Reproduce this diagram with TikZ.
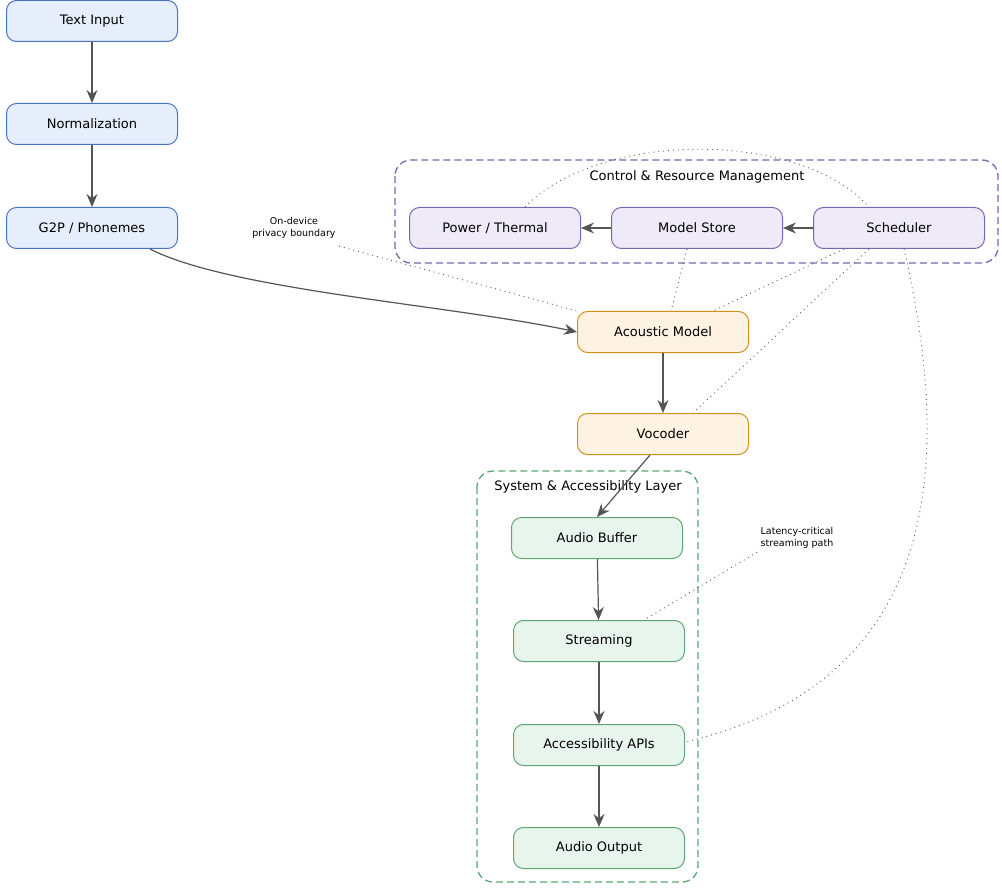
\documentclass[tikz,border=0pt]{standalone}
\usepackage{fontspec}
\setmainfont{DejaVu Sans}
\usetikzlibrary{arrows.meta}
\definecolor{bfill}{HTML}{E6EEFB}\definecolor{bline}{HTML}{4A72C0}
\definecolor{pfill}{HTML}{EEEAF8}\definecolor{pline}{HTML}{7A66B0}
\definecolor{ofill}{HTML}{FEF3E2}\definecolor{oline}{HTML}{D4901A}
\definecolor{gfill}{HTML}{E8F5EC}\definecolor{gline}{HTML}{5BA673}
\definecolor{arr}{HTML}{555555}
\begin{document}
\begin{tikzpicture}[x=1pt,y=-1pt,
 box/.style={rounded corners=10pt,minimum width=171pt,minimum height=41pt,inner sep=0pt,font=\fontsize{13}{15}\selectfont,line width=1pt},
 blue/.style={box,fill=bfill,draw=bline},
 purp/.style={box,fill=pfill,draw=pline},
 oran/.style={box,fill=ofill,draw=oline},
 gree/.style={box,fill=gfill,draw=gline},
 grp/.style={rounded corners=16pt,line width=1.3pt,dash pattern=on 7pt off 4pt},
 ar/.style={draw=arr,line width=1.2pt,-{Stealth[length=13pt,width=11pt]}},
 dot/.style={draw=arr,line width=0.9pt,dash pattern=on 0.9pt off 4pt},
 lbl/.style={font=\fontsize{9.5}{12}\selectfont,align=center}]
\useasboundingbox (0,0) rectangle (1002,896);
\draw[grp,draw=pline] (395,160) rectangle (998,263);
\node[font=\fontsize{13}{15}\selectfont] (cl) at (697,177) {Control \& Resource Management};
\draw[grp,draw=gline] (477,471) rectangle (698,882);
\node[font=\fontsize{13}{15}\selectfont] (sl) at (588,487) {System \& Accessibility Layer};
\node[blue] (ti) at (92,21) {Text Input};
\node[blue] (no) at (92,124) {Normalization};
\node[blue] (g2p) at (92,228) {G2P / Phonemes};
\node[purp] (pt) at (495,228) {Power / Thermal};
\node[purp] (ms) at (697,228) {Model Store};
\node[purp] (sc) at (899,228) {Scheduler};
\node[oran] (am) at (663,332) {Acoustic Model};
\node[oran] (vo) at (663,434) {Vocoder};
\node[gree] (ab) at (597,538) {Audio Buffer};
\node[gree] (st) at (599,641) {Streaming};
\node[gree] (api) at (599,745) {Accessibility APIs};
\node[gree] (ao) at (599,848) {Audio Output};
\node[lbl] (pl) at (294,228) {On-device\\privacy boundary};
\node[lbl] (ll) at (797,538) {Latency-critical\\streaming path};
\draw[ar] (g2p.south east) ++(-28,0) coordinate (gs) (gs) .. controls (230,290) and (450,305) .. (am.west);
\draw[ar] (ti) -- (no);
\draw[ar] (no) -- (g2p);
\draw[ar] (sc) -- (ms);
\draw[ar] (ms) -- (pt);
\draw[ar] (am) -- (vo);
\draw[ar] (vo.south) ++(-13,0) coordinate (vs) (vs) -- (ab.north);
\draw[ar] (ab) -- (st);
\draw[ar] (st) -- (api);
\draw[ar] (api) -- (ao);
\draw[dot] (pl.south east) ++(0,4) coordinate (pls) (pls) -- (am.north west);
\draw[dot] (pt.north) ++(30,0) coordinate (ptn) (ptn) .. controls (600,130) and (800,130) .. ([xshift=-30pt]sc.north);
\draw[dot] ([xshift=-10pt]ms.south) -- ([xshift=8pt]am.north);
\draw[dot] ([xshift=-55pt]sc.south) -- ([xshift=50pt]am.north);
\draw[dot] ([xshift=-30pt]sc.south) -- ([xshift=30pt]vo.north);
\draw[dot] ([xshift=5pt]sc.south) .. controls (950,450) and (950,680) .. ([yshift=-18pt]api.north east);
\draw[dot] (ll.south west) -- ([xshift=45pt]st.north);
\end{tikzpicture}
\end{document}
